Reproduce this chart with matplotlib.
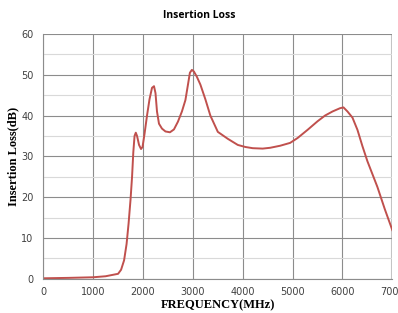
import numpy as np
import matplotlib
matplotlib.use("Agg")
import matplotlib.pyplot as plt
from matplotlib.ticker import MultipleLocator

# --- Data ---
freq = [0, 500, 1000, 1250, 1500, 1560, 1620, 1670, 1710, 1750, 1780, 1805, 1830, 1855,
        1880, 1920, 1960, 1990, 2030, 2080, 2130, 2180, 2220, 2250, 2280, 2320, 2380,
        2450, 2540, 2620, 2700, 2780, 2850, 2900, 2940, 2980, 3020, 3080, 3150, 3250,
        3350, 3500, 3700, 3900, 4050, 4200, 4400, 4550, 4750, 4950, 5100, 5300, 5500,
        5650, 5800, 5950, 6020, 6100, 6200, 6300, 6400, 6500, 6700, 6850, 7000]
loss = [0.1, 0.2, 0.35, 0.6, 1.2, 2.2, 4.5, 8.5, 13.5, 19.5, 25.0, 31.0, 35.0, 35.8,
        35.0, 32.8, 31.8, 32.3, 35.5, 40.0, 44.0, 46.8, 47.2, 45.5, 41.0, 38.0, 36.8,
        36.1, 35.9, 36.6, 38.5, 41.0, 43.8, 47.5, 50.5, 51.2, 50.8, 49.5, 47.6, 44.0,
        40.0, 36.0, 34.3, 32.8, 32.3, 32.0, 31.9, 32.1, 32.6, 33.3, 34.5, 36.5, 38.6,
        40.0, 41.0, 41.8, 42.0, 41.0, 39.5, 36.5, 32.5, 28.8, 22.5, 17.0, 11.9]

title = "Insertion Loss"
xlabel = "FREQUENCY(MHz)"
ylabel = "Insertion Loss(dB)"

fig = plt.figure(figsize=(3.98, 3.13), dpi=100)
ax = fig.add_axes([0.1088, 0.1096, 0.877, 0.7818])

ax.plot(freq, loss, color="#C0504D", linewidth=1.4, solid_joinstyle="round")

ax.set_xlim(0, 7000)
ax.set_ylim(0, 60)
ax.xaxis.set_major_locator(MultipleLocator(1000))
ax.yaxis.set_major_locator(MultipleLocator(10))
ax.yaxis.set_minor_locator(MultipleLocator(5))

ax.grid(which="major", axis="both", color="#8c8c8c", linewidth=0.8)
ax.grid(which="minor", axis="y", color="#d9d9d9", linewidth=0.8)
ax.set_axisbelow(True)

for s in ["top", "right"]:
    ax.spines[s].set_visible(False)
ax.spines["left"].set_color("#8c8c8c")
ax.spines["bottom"].set_color("#8c8c8c")
ax.axvline(7000, color="#c8c8c8", linewidth=1.5, zorder=0)

ax.tick_params(which="both", length=0, labelsize=7, colors="#404040", pad=6)
ax.tick_params(axis="y", pad=7)
for lab in ax.get_xticklabels() + ax.get_yticklabels():
    lab.set_family("DejaVu Sans")

fig.text(0.5, 0.952, title, ha="center", va="center", fontsize=7.5,
         fontweight="bold", family="Open Sans")
fig.text(0.547, 0.025, xlabel, ha="center", va="center", fontsize=9,
         fontweight="bold", family="Liberation Serif")
fig.text(0.033, 0.5, ylabel, ha="center", va="center", rotation=90, fontsize=9,
         fontweight="bold", family="Liberation Serif")

fig.savefig("out.png", dpi=100)
